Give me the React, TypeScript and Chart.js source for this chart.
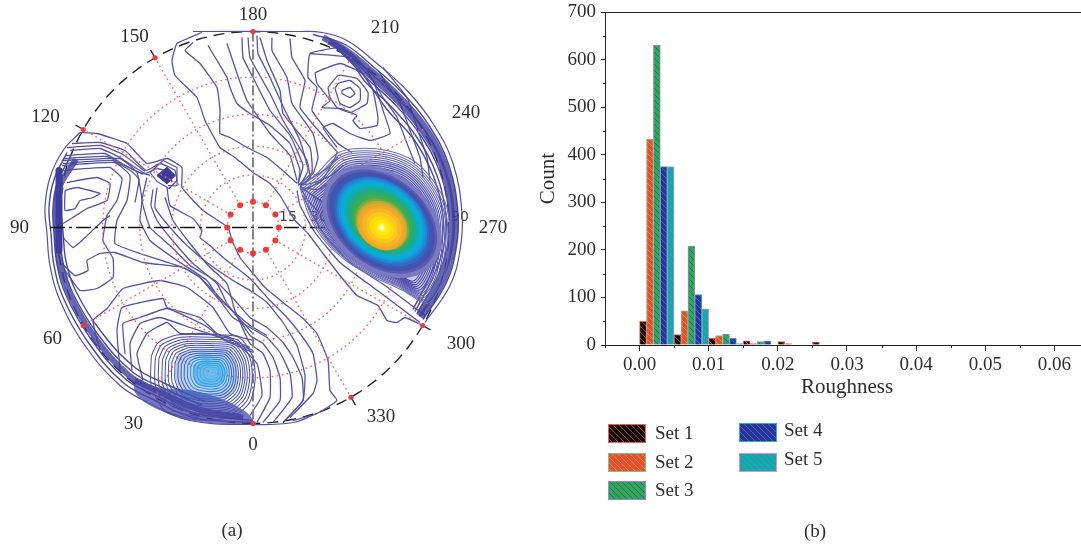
import React, { useEffect, useRef } from "react";
import { Chart, registerables } from "chart.js";

Chart.register(...registerables);

/* ---------- histogram (b) ---------- */
const binCentres = [0.0025, 0.0075, 0.0125, 0.0175, 0.0225, 0.0275];
const set1 = [50, 22, 14, 9, 7, 6];
const set2 = [433, 72, 20, 3, 3, null];
const set3 = [630, 208, 23, 7, null, null];
const set4 = [375, 106, 14, 8, null, null];
const set5 = [375, 76, 3, null, null, null];
const setLabels = ["Set 1", "Set 2", "Set 3", "Set 4", "Set 5"];
const setFills = ["#0a0a0a", "#e8502a", "#30a850", "#30309a", "#10a8a8"];
const setHatches = ["#b83020", "#f58058", "#3a5f9a", "#2a72b4", "#3c9cc4"];
const setBorders = ["#e8604a", "#70c890", "#8f8fd0", "#30b0c0", "#e090c8"];

/* ---------- stereonet (a): azimuth / dip labels ---------- */
const azimuthLabels = ["0", "30", "60", "90", "120", "150", "180", "210", "240", "270", "300", "330"];
const spokeAzimuths = [30, 60, 120, 150, 210, 240, 300, 330];
const dipRings = [15, 30, 45, 60, 75];
const tickAzimuths = [120, 150, 300, 330];
const ringDotAzimuths = [0, 30, 60, 90, 120, 150, 180, 210, 240, 270, 300, 330];
const rimDotAzimuths = [0, 60, 120, 150, 180, 300, 330];

/* contour traces: x,y pairs in net units from the pole */
const upperLines = [
  [-51,-195,-76,-184,-81,-167,-78,-152,-56,-130,-48,-107,-33,-80,-18,-70,0,-55,17,-44,27,-32,37,-15,42,-7,55,6,70,26,87,48,104,68,125,78,134,93,144,95,152,90,170,98],
  [-60,-185,-68,-177,-53,-164,-36,-140,-33,-117,-33,-94,-23,-90,-6,-80,14,-70,32,-55,44,-44],
  [44,-37,47,-22,62,5,87,35,127,65,167,95],
  [50,-32,57,-17,72,8,97,35,132,58,172,88],
  [-45,-182,-36,-167,-26,-150,-23,-140,-16,-124,-3,-114,17,-102,37,-84,47,-57,45,-44],
  [-26,-184,-16,-154,-6,-127,17,-94,37,-72,44,-47],
  [-11,-190,-10,-170,0,-150,17,-117,37,-92,50,-62,45,-44],
  [-5,-190,-3,-170,17,-134,30,-107,54,-67,57,-49,47,-42],
  [4,-192,5,-174,17,-150,32,-117,47,-87,55,-57,47,-42],
  [7,-190,14,-167,27,-137,30,-114,57,-80,59,-55,45,-42],
  [19,-190,19,-177,34,-150,39,-124,60,-94,65,-70,60,-54,47,-40],
  [37,-189,39,-170,52,-147,47,-120,74,-87,84,-75,69,-47,50,-37],
  [84,-180,57,-174,55,-150,64,-140,59,-117,85,-84,99,-75],
  [89,-137,97,-140,102,-134,97,-130,89,-134,89,-137],
  [82,-139,85,-144,97,-147,107,-139,107,-127,97,-120,87,-124,82,-139],
  [75,-140,85,-152,104,-149,115,-135,114,-124,97,-115,84,-120,77,-130,75,-140],
  [62,-155,87,-164,110,-154,120,-137,125,-110,124,-102,107,-99,100,-107,104,-112,87,-119,69,-120,77,-127,64,-144,62,-155],
  [57,-174,97,-170,120,-147,130,-117,137,-94,117,-87,97,-94,80,-104,70,-100,84,-80],
  [130,-160,154,-130,164,-100,174,-70,177,-47],
  [125,-157,147,-124,157,-97,167,-70,170,-50],
  [114,-157,130,-130,144,-110,154,-84,162,-64],
  [47,-42,60,-50,75,-60,85,-70],
  [47,-42,62,-45,78,-52,90,-62],
  [47,-40,65,-38,75,-44],
  [47,-40,55,-27,66,-15],
  [47,-41,60,-32,70,-25],
];

const leftLines = [
  [-173,-95,-156,-94,-126,-84,-106,-64,-86,-69,-71,-60,-71,-40,-50,-17,-25,0,-21,13,-13,30,0,46,12,60,30,75,50,91,64,106,75,133,77,163,84,173,64,186,40,193],
  [-86,-40,-83,-22,-60,-9,-51,3,-53,10,-43,18,-30,30,-3,51,17,73,34,90,47,106,60,126,64,153,60,166,37,190],
  [-96,-40,-98,-20,-83,0,-66,18,-46,35,-20,53,-3,63,14,75,30,95,44,118,52,148,50,173,30,195],
  [-106,-50,-111,-27,-103,0,-83,18,-63,38,-38,53,-18,73,-3,90,14,100,30,115,40,130,49,150,50,173,30,195],
  [-191,-67,-133,-69,-116,-55,-111,-27,-113,-7,-103,13,-76,33,-46,53,-33,73,-20,90,-3,100,14,110,27,125,37,146,39,170,20,195],
  [-100,-38,-102,-22,-96,-7,-83,10,-60,36,-36,56,-26,76,-13,93,-3,108,10,116,20,130,27,150,27,173,10,195],
  [-88,-30,-80,-7,-63,16,-43,40,-26,56,-18,83,-3,116,10,126,17,143,17,170,4,195],
  [-191,-62,-138,-65,-123,-52,-126,-27,-136,-7,-138,16,-113,26,-70,40,-53,50,-40,63,-23,81,-3,98,14,108],
  [-191,-57,-143,-60,-131,-49,-136,-27,-146,-12,-150,13,-140,31,-140,50,-156,61,-173,63,-188,43],
  [-191,36,-178,48,-165,43,-166,33,-153,26,-138,25,-110,35,-70,40,-53,50,-36,70,-23,81,0,106],
  [-181,-84,-153,-85,-128,-77,-107,-57,-93,-64,-78,-57,-76,-42,-85,-42],
  [-183,-77,-153,-79,-133,-70,-108,-54,-96,-59,-83,-55,-81,-45],
  [-188,-72,-148,-74,-128,-62,-113,-55,-103,-52],
  [-186,-80,-152,-82,-130,-73,-108,-56],
  [-190,-69,-146,-71,-124,-60,-110,-53],
  [-190,-64,-140,-67,-120,-55,-114,-48,-118,-25],
  [-188,-37,-176,-40,-153,-34,-160,-30,-173,-27,-178,-19,-188,-17,-188,-37],
  [-186,-45,-156,-50,-143,-44,-146,-27,-166,-19,-180,-10,-190,-4],
  [-190,10,-180,20,-171,13,-150,-7,-143,-12],
  [-153,123,-160,93,-146,81,-130,61,-93,53,-66,60,-40,80,-23,106,0,113],
  [-133,143,-136,103,-131,80,-90,71,-86,80,-53,90,-36,106,-3,120],
  [-128,126,-130,96,-113,90,-86,81,-48,98,-28,113,0,125],
  [-121,143,-123,116,-113,96,-93,90,-63,100,-33,110,0,123],
  [-110,153,-116,126,-106,106,-86,95,-73,106,-53,106,-23,110,4,136,9,168,-3,188],
];

const knotOutline = [-96,-52,-86,-60,-78,-52,-86,-44,-96,-52];
const knotLoop = [-103,-55,-90,-67,-76,-60,-76,-47,-84,-39,-96,-46,-103,-55];

const edgeOuterLines = [
  [-60,-196,47,-196,69,-195,94,-187,124,-164,154,-137,180,-104,200,-64,209,-14,207,23,197,58,172,95],
  [-173,-95,-190,-77,-203,-50,-208,-20,-206,6,-203,38,-193,73,-168,118,-133,158,-103,176,-63,193,0,197,40,195,64,186],
];
const edgeInnerLines = [
  [60,-193,92,-183,120,-161,150,-134,176,-102,196,-62,205,-14,203,22,193,56,170,92],
  [82,-181,94,-169,114,-149,141,-124,167,-93,187,-55,196,-12,194,20,184,50,164,86],
  [88,-176,100,-164,112,-146,138,-121,164,-90,184,-52,193,-12,191,18,181,48,162,84],
  [94,-172,108,-156,134,-118,161,-88,181,-50,190,-11,188,18,178,46,160,82],
  [-186,-75,-199,-48,-204,-20,-202,6,-199,38,-189,72,-164,116,-130,155,-100,172,-60,190,0,195],
  [-182,-72,-196,-44,-200,-20,-199,6,-196,37,-186,70,-161,113,-127,152,-97,168,-57,186,0,193],
  [-190,-40,-194,-18,-193,5,-190,35,-180,66,-155,107,-121,144,-91,160,-51,178],
  [-192,-16,-190,4,-187,34,-177,64,-152,104,-118,140,-88,156,-48,174],
];
const edgeCoreLines = [
  [70,-190,92,-178,118,-157,147,-130,173,-99,193,-60,202,-14,200,22,190,54,168,90],
  [76,-186,95,-174,116,-153,144,-127,170,-96,190,-58,199,-13,197,20,187,52,166,88],
  [-177,-68,-193,-42,-197,-20,-196,6,-193,36,-183,68,-158,110,-124,148,-94,164,-54,182,-10,190],
];
const leftBandCore = [-194,-57,-194,23];
const lowShade = [-118,150,-95,160,-60,163,-30,172,-5,186,0,196,-63,193,-103,178,-118,165,-118,150];

/* lower density peak: outline and the levels of its nested contours */
const lowOutline = [-45,-12,-40,-22,-25,-28,0,-28,20,-26,30,-12,32,5,28,22,15,33,-10,35,-35,28,-45,10,-45,-12];
const lowCentre = [-41, 145];
const lowLevels = [1.35,1.26,1.18,1.1,1.03,0.96,0.89,0.82,0.75,0.68,0.61,0.54,0.47,0.4,0.33,0.26,0.19,0.12,0.06];
const lowColours = ["#5050a8","#5050a8","#4e52aa","#4c54ac","#4a56ae","#4858b0","#465ab4","#445eb8","#4064bc","#3a6ec4","#3278cc","#2a86d4","#2294dc","#1ea0e4","#20aaea","#2cb2ec","#3cb8ec","#50c0ec","#60c8f0"];

/* main density peak: outer outline, contour levels, then the colour zones */
const hotOutline = [-80,-43,-63,-57,-43,-77,-23,-82,7,-80,33,-70,53,-50,67,-23,70,7,67,33,60,57,47,73,23,60,-3,48,-30,33,-53,13,-70,-13,-80,-43];
const hotOutlineCentre = [127, 3];
const hotLevels = [1,0.97,0.945,0.92,0.895,0.87,0.845,0.82,0.795,0.77,0.745,0.72,0.695];
const hotLineColours = ["#6c6cb8","#6868b6","#6464b4","#6060b2","#5c5cb0","#5858ae","#5454ac","#5050aa","#4c4ca8","#4848a6","#4545a4","#4343a2","#4040a0"];
const hotCentre = [129, 0];
const hotTilt = 40;
const hotMajor = [67,62,59,56,53,50.5,48,46,44,42,40,37.5,35,32,29.5,27.5,26,24,21,17,13,9,5,2.5];
const hotMinor = [48,44,42,40,38.5,37,35,33.5,32,30.5,29,28,26.5,25,23.5,22.5,21.5,20.5,18,14.5,11,7.5,4,2];
const hotLift = [-6,-6,-6,-6,-6,-7,-7,-7,-7,-7,-7,-6,-6,-5,-3,-2,-1,0,0,0,0,0,0,0];
const hotColours = ["#7a7ac0","#5a5cb2","#4650ae","#3c58b4","#2f6cc0","#2583cf","#189ada","#08aadf","#06b0d4","#0eaebc","#14aca4","#1eab8a","#2bab6c","#3eab55","#72ad42","#b8ac34","#e0a830","#f4a62c","#f9b524","#fcc61a","#fed810","#ffe808","#fff230","#ffffff"];

/* ---------- shared look ---------- */
const SERIF = "'Liberation Serif', serif";
const INK = "#2e2e2e";
const NET_RADIUS = 196;
const CONTOUR = "#5454a8";
const DOT = "#f4706a";

const azimuthLabelPlaces = [
  [0, 218], [-119.5, 197], [-200.5, 112], [-233.5, 0.5], [-207.5, -110.5], [-118.5, -190.5],
  [0, -212.5], [132, -199.5], [213, -114.5], [240, 0.5], [208, 116.5], [128, 189.5],
];

const pairs = (flat: number[]) => {
  const out: { x: number; y: number }[] = [];
  for (let i = 0; i < flat.length; i += 2) out.push({ x: flat[i], y: flat[i + 1] });
  return out;
};
const polar = (azimuth: number, r: number) => {
  const a = (azimuth * Math.PI) / 180;
  return { x: -r * Math.sin(a), y: r * Math.cos(a) };
};
const dipRadius = (dip: number) => NET_RADIUS * Math.tan((dip * Math.PI) / 360);
const circle = (r: number) => {
  const pts = [];
  for (let a = 0; a <= 360; a += 3) pts.push(polar(a, r));
  return pts;
};
const scaled = (flat: number[], centre: number[], k: number) =>
  pairs(flat).map((p) => ({ x: centre[0] + p.x * k, y: centre[1] + p.y * k }));
const tiltedEllipse = (cx: number, cy: number, a: number, b: number) => {
  const t = (hotTilt * Math.PI) / 180;
  const pts = [];
  for (let d = 0; d <= 360; d += 8) {
    const u = a * Math.cos((d * Math.PI) / 180);
    const v = b * Math.sin((d * Math.PI) / 180);
    pts.push({ x: cx + u * Math.cos(t) - v * Math.sin(t), y: cy + u * Math.sin(t) + v * Math.cos(t) });
  }
  return pts;
};
const trace = (data: any[], color: string, width: number, extra: any = {}) => ({
  data,
  showLine: true,
  borderColor: color,
  backgroundColor: color,
  borderWidth: width,
  pointRadius: 0,
  tension: 0,
  fill: false,
  borderJoinStyle: "round",
  ...extra,
});

function netDatasets() {
  const bottomUp: any[] = [];
  bottomUp.push(trace(circle(NET_RADIUS), "#222", 1.4, { borderDash: [11, 7] }));
  const ticks: any[] = [];
  tickAzimuths.forEach((a) => {
    ticks.push(polar(a, NET_RADIUS), polar(a, NET_RADIUS + 9), { x: NaN, y: NaN });
  });
  bottomUp.push(trace(ticks, "#222", 1.4, { spanGaps: false }));
  upperLines.concat(leftLines).forEach((l) => bottomUp.push(trace(pairs(l), CONTOUR, 1.3, { tension: 0.12 })));
  bottomUp.push(trace(pairs(lowShade), "#3c3ca8", 0, { fill: "shape", tension: 0.3, backgroundColor: "rgba(60,60,170,0.7)" }));
  edgeOuterLines.forEach((l) => bottomUp.push(trace(pairs(l), "#5050a8", 1.2, { tension: 0.4 })));
  edgeInnerLines.forEach((l) => bottomUp.push(trace(pairs(l), "#4a4aa4", 1.4, { tension: 0.4 })));
  edgeCoreLines.forEach((l) => bottomUp.push(trace(pairs(l), "rgba(63,63,156,0.8)", 6, { tension: 0.4 })));
  bottomUp.push(trace(pairs(leftBandCore), "#3d3d9c", 7));
  bottomUp.push(trace(pairs(knotOutline), "#3c3c98", 1.2, { fill: "shape", backgroundColor: "#3c3c98" }));
  bottomUp.push(trace(pairs(knotLoop), CONTOUR, 1.2));
  dipRings.forEach((d) =>
    bottomUp.push(trace(circle(dipRadius(d)), DOT, 1.5, { borderDash: [0.5, 4.5], borderCapStyle: "round" }))
  );
  spokeAzimuths.forEach((a) =>
    bottomUp.push(
      trace([polar(a, dipRadius(15)), polar(a, NET_RADIUS)], DOT, 1.5, { borderDash: [0.5, 4.5], borderCapStyle: "round" })
    )
  );
  bottomUp.push(
    trace([{ x: -203, y: 0 }, { x: 90, y: 0 }], "#111", 1.3, { borderDash: [15, 4, 3, 4] }),
    trace([{ x: 0, y: -NET_RADIUS }, { x: 0, y: NET_RADIUS }], "#858585", 2, { borderDash: [10, 3, 2, 3] })
  );
  bottomUp.push({
    data: ringDotAzimuths.map((a) => polar(a, dipRadius(15))),
    showLine: false,
    pointRadius: 3,
    pointBackgroundColor: "#ee3a36",
    pointBorderWidth: 0,
  });
  bottomUp.push({
    data: rimDotAzimuths.map((a) => polar(a, NET_RADIUS)),
    showLine: false,
    pointRadius: 2.6,
    pointBackgroundColor: "#ee3a36",
    pointBorderWidth: 0,
  });
  // lower peak
  bottomUp.push(trace(scaled(lowOutline, lowCentre, 0.8), "#3a60b0", 0, { fill: "shape", tension: 0.3, backgroundColor: "rgba(60,90,190,0.3)" }));
  bottomUp.push(trace(scaled(lowOutline, lowCentre, 0.42), "#40b0f0", 0, { fill: "shape", tension: 0.3, backgroundColor: "rgba(40,165,240,0.5)" }));
  lowLevels.forEach((k, i) => bottomUp.push(trace(scaled(lowOutline, lowCentre, k), lowColours[i], 1.05, { tension: 0.25 })));
  // main peak
  bottomUp.push(trace(scaled(hotOutline, hotOutlineCentre, 0.86), "#4848a6", 0, { fill: "shape", tension: 0.3, backgroundColor: "rgba(84,84,180,0.3)" }));
  hotLevels.forEach((k, i) => bottomUp.push(trace(scaled(hotOutline, hotOutlineCentre, k), hotLineColours[i], 1.05, { tension: 0.3 })));
  hotMajor.forEach((a, i) =>
    bottomUp.push(
      trace(tiltedEllipse(hotCentre[0], hotCentre[1] + hotLift[i], a, hotMinor[i]), hotColours[i], 0, {
        fill: "shape",
        backgroundColor: hotColours[i],
      })
    )
  );
  return bottomUp.reverse();
}

const netLabels = {
  id: "netLabels",
  beforeDatasetsDraw(chart: any) {
    const { ctx, scales } = chart;
    ctx.save();
    ctx.fillStyle = "#444";
    ctx.font = "14px 'DejaVu Sans', sans-serif";
    ctx.textAlign = "center";
    ctx.textBaseline = "middle";
    [["15", 35, -10], ["30", 66, -10], ["90", 207, -10]].forEach(([t, x, y]: any) =>
      ctx.fillText(t, scales.x.getPixelForValue(x), scales.y.getPixelForValue(y))
    );
    ctx.restore();
  },
  afterDraw(chart: any) {
    const { ctx, scales } = chart;
    ctx.save();
    ctx.fillStyle = INK;
    ctx.font = `19px ${SERIF}`;
    ctx.textAlign = "center";
    ctx.textBaseline = "middle";
    azimuthLabels.forEach((t, i) =>
      ctx.fillText(
        t,
        scales.x.getPixelForValue(azimuthLabelPlaces[i][0]),
        scales.y.getPixelForValue(azimuthLabelPlaces[i][1])
      )
    );
    ctx.fillText("(a)", scales.x.getPixelForValue(-21), scales.y.getPixelForValue(304));
    ctx.restore();
  },
};

const hatch = (fill: string, line: string) => {
  const c = document.createElement("canvas");
  c.width = 6;
  c.height = 6;
  const g = c.getContext("2d")!;
  g.fillStyle = fill;
  g.fillRect(0, 0, 6, 6);
  g.strokeStyle = line;
  g.lineWidth = 1;
  g.beginPath();
  g.moveTo(-1, -1);
  g.lineTo(7, 7);
  g.moveTo(-4, 2);
  g.lineTo(2, 8);
  g.moveTo(2, -4);
  g.lineTo(8, 2);
  g.stroke();
  return g.createPattern(c, "repeat")!;
};

const legendSwatches = [
  [78, 424, 125, 434],
  [78, 453, 125, 463],
  [78, 481, 125, 491],
  [209, 423, 254, 431],
  [209, 453, 254, 460],
];

const histogramExtras = {
  id: "histogramExtras",
  afterDraw(chart: any) {
    const { ctx, scales, chartArea, data } = chart;
    ctx.save();
    ctx.strokeStyle = "#222";
    ctx.lineWidth = 1;
    ctx.beginPath();
    ctx.moveTo(chartArea.left, Math.round(chartArea.top) + 0.5);
    ctx.lineTo(chartArea.right, Math.round(chartArea.top) + 0.5);
    scales.x.ticks.forEach((t: any) => {
      if (Math.abs(t.value * 100 - Math.round(t.value * 100)) > 1e-6) {
        const x = Math.round(scales.x.getPixelForValue(t.value)) + 0.5;
        ctx.moveTo(x, chartArea.bottom);
        ctx.lineTo(x, chartArea.bottom + 3);
      }
    });
    scales.y.ticks.forEach((t: any) => {
      if (t.value % 100 !== 0) {
        const y = Math.round(scales.y.getPixelForValue(t.value)) + 0.5;
        ctx.moveTo(chartArea.left, y);
        ctx.lineTo(chartArea.left - 2, y);
      }
    });
    ctx.stroke();
    ctx.font = `19px ${SERIF}`;
    ctx.textBaseline = "middle";
    ctx.textAlign = "left";
    data.datasets.forEach((d: any, i: number) => {
      const [x, y, tx, ty] = legendSwatches[i];
      ctx.fillStyle = d.backgroundColor;
      ctx.fillRect(x, y, 38, 19);
      ctx.strokeStyle = d.borderColor;
      ctx.strokeRect(x + 0.5, y + 0.5, 37, 18);
      ctx.fillStyle = INK;
      ctx.fillText(d.label, tx, ty);
    });
    ctx.textAlign = "center";
    ctx.fillText("(b)", 285, 532);
    ctx.restore();
  },
};

export default function App() {
  const netRef = useRef<HTMLCanvasElement>(null);
  const histRef = useRef<HTMLCanvasElement>(null);

  useEffect(() => {
    const net = new Chart(netRef.current!, {
      type: "scatter",
      data: { datasets: netDatasets() },
      plugins: [netLabels],
      options: {
        animation: false,
        responsive: false,
        events: [],
        layout: { padding: 0, autoPadding: false },
        plugins: { legend: { display: false }, tooltip: { enabled: false } },
        scales: {
          x: { type: "linear", display: false, min: -253, max: 287 },
          y: { type: "linear", display: false, reverse: true, min: -227.5, max: 317.5 },
        },
      },
    } as any);

    const series = [set1, set2, set3, set4, set5];
    const hist = new Chart(histRef.current!, {
      type: "bar",
      data: {
        datasets: series.map((vals, i) => ({
          label: setLabels[i],
          data: vals.map((y, k) => ({ x: binCentres[k], y })),
          backgroundColor: hatch(setFills[i], setHatches[i]),
          borderColor: setBorders[i],
          borderWidth: 1,
          categoryPercentage: 1,
          barPercentage: 1,
        })),
      },
      plugins: [histogramExtras],
      options: {
        animation: false,
        responsive: false,
        events: [],
        layout: { padding: { top: 12, bottom: 0, left: 0, right: 0 }, autoPadding: false },
        plugins: { legend: { display: false }, tooltip: { enabled: false } },
        scales: {
          x: {
            type: "linear",
            offset: false,
            min: -0.005,
            max: 0.065,
            afterFit: (s: any) => {
              s.height = 200;
              s.paddingLeft = 0;
              s.paddingRight = 0;
            },
            grid: {
              offset: false,
              drawOnChartArea: false,
              tickLength: 6,
              tickColor: (c: any) =>
                c.tick && Math.abs(c.tick.value * 100 - Math.round(c.tick.value * 100)) < 1e-6 ? "#222" : "rgba(0,0,0,0)",
            },
            border: { color: "#222", width: 1 },
            ticks: {
              stepSize: 0.005,
              autoSkip: false,
              maxRotation: 0,
              includeBounds: false,
              padding: 3,
              color: INK,
              font: { family: SERIF, size: 19 },
              callback: (v: any) => {
                const n = Number(v);
                return n >= -1e-9 && Math.abs(n * 100 - Math.round(n * 100)) < 1e-6 ? n.toFixed(2) : "";
              },
            },
            title: { display: true, text: "Roughness", color: INK, font: { family: SERIF, size: 21 }, padding: { top: 0, bottom: 145 } },
          },
          y: {
            type: "linear",
            min: 0,
            max: 700,
            afterFit: (s: any) => {
              s.width = 75;
              s.paddingTop = 0;
              s.paddingBottom = 0;
            },
            grid: {
              drawOnChartArea: false,
              tickLength: 4,
              tickColor: (c: any) => (c.tick && c.tick.value % 100 === 0 ? "#222" : "rgba(0,0,0,0)"),
            },
            border: { color: "#222", width: 1 },
            ticks: {
              stepSize: 50,
              autoSkip: false,
              padding: 5,
              color: INK,
              font: { family: SERIF, size: 19 },
              callback: (v: any) => (Number(v) % 100 === 0 ? String(v) : ""),
            },
            title: { display: true, text: "Count", color: INK, font: { family: SERIF, size: 21 }, padding: { top: 6, bottom: 0 } },
          },
        },
      },
    } as any);

    return () => {
      net.destroy();
      hist.destroy();
    };
  }, []);

  return (
    <div style={{ position: "fixed", left: 0, top: 0, width: 1081, height: 545, overflow: "hidden", background: "#fff" }}>
      <canvas ref={netRef} width={540} height={545} style={{ position: "absolute", left: 0, top: 0, width: 540, height: 545 }} />
      <canvas ref={histRef} width={559} height={545} style={{ position: "absolute", left: 530, top: 0, width: 559, height: 545 }} />
    </div>
  );
}
